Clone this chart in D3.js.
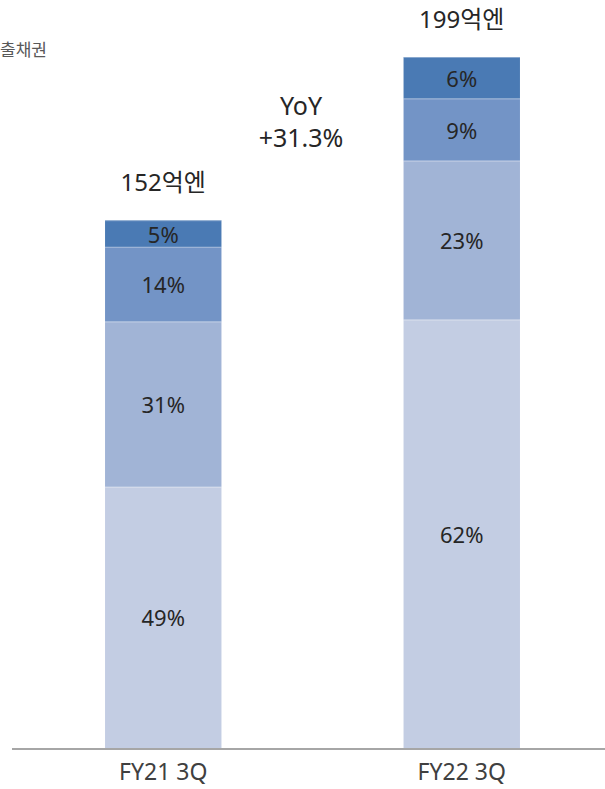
<!DOCTYPE html>
<html>
<head>
<meta charset="utf-8">
<script src="https://cdn.jsdelivr.net/npm/d3@7"></script>
<style>
  html, body { margin: 0; padding: 0; background: #fff; }
  svg { display: block; }
  text { font-family: "Noto Sans", "Noto Sans CJK KR", sans-serif; }
</style>
</head>
<body>
<svg id="chart" width="605" height="789"></svg>
<script>
// ---- data ----
const categories = ["FY21 3Q", "FY22 3Q"];
const totals = [152, 199];
const totalLabels = ["152억엔", "199억엔"];
const segmentKeys = ["s1", "s2", "s3", "s4"]; // bottom → top
const sharesFY21 = [49, 31, 14, 5];
const sharesFY22 = [62, 23, 9, 6];
const segmentColors = ["#c3cde3", "#a1b4d6", "#7394c6", "#4a7ab4"];
const yoyLines = ["YoY", "+31.3%"];
const cornerLabel = "출채권";

const shares = [sharesFY21, sharesFY22];

const svg = d3.select("#chart");

const x = d3.scaleBand().domain(categories).range([14, 611]).paddingInner(0.61).paddingOuter(0.305);
const y = d3.scaleLinear().domain([0, 199]).range([748, 57]);

// build stacked rows: each segment value = total * share
const rows = categories.map((c, i) => {
  const sum = d3.sum(shares[i]);
  const r = { cat: c };
  segmentKeys.forEach((k, j) => { r[k] = totals[i] * shares[i][j] / sum; });
  return r;
});
const stack = d3.stack().keys(segmentKeys)(rows);

const layers = svg.append("g").selectAll("g").data(stack).join("g")
  .attr("fill", (d, j) => segmentColors[j]);

layers.selectAll("rect").data(d => d).join("rect")
  .attr("x", d => x(d.data.cat))
  .attr("width", x.bandwidth())
  .attr("y", d => y(d[1]))
  .attr("height", d => y(d[0]) - y(d[1]));

// thin separators between segments
layers.selectAll("line").data(d => d).join("line")
  .attr("x1", d => x(d.data.cat))
  .attr("x2", d => x(d.data.cat) + x.bandwidth())
  .attr("y1", d => y(d[1]) + 0.5)
  .attr("y2", d => y(d[1]) + 0.5)
  .attr("stroke", "#ffffff").attr("stroke-opacity", 0.35).attr("stroke-width", 1);

// percentage labels
stack.forEach((layer, j) => {
  svg.append("g").selectAll("text").data(layer).join("text")
    .attr("x", d => x(d.data.cat) + x.bandwidth() / 2)
    .attr("y", d => (y(d[0]) + y(d[1])) / 2)
    .attr("text-anchor", "middle")
    .attr("dominant-baseline", "central")
    .attr("font-size", 22)
    .attr("fill", "#262626")
    .text((d, i) => shares[i][j] + "%");
});

// axis
const axis = d3.axisBottom(x).tickSize(0).tickPadding(15);
const gAxis = svg.append("g").attr("transform", "translate(0,749)").call(axis);
gAxis.select(".domain").attr("stroke", "#a6a6a6").attr("stroke-width", 2)
  .attr("d", "M12,0H605");
gAxis.selectAll("text").attr("font-size", 23).attr("fill", "#404040")
  .attr("font-family", "\"Noto Sans\", \"Noto Sans CJK KR\", sans-serif");

// total labels
svg.append("g").selectAll("text").data(categories).join("text")
  .attr("x", c => x(c) + x.bandwidth() / 2)
  .attr("y", (c, i) => y(totals[i]) - 29)
  .attr("text-anchor", "middle")
  .attr("font-size", 24)
  .attr("fill", "#262626")
  .text((c, i) => totalLabels[i]);

// YoY label
svg.append("g").selectAll("text").data(yoyLines).join("text")
  .attr("x", 301)
  .attr("y", (d, i) => 115 + i * 32)
  .attr("text-anchor", "middle")
  .attr("font-size", 25)
  .attr("fill", "#262626")
  .text(d => d);

// corner label
svg.append("text")
  .attr("x", 0).attr("y", 56)
  .attr("font-size", 17)
  .attr("font-family", "\"Noto Sans CJK KR\", sans-serif")
  .attr("fill", "#595959")
  .text(cornerLabel);
</script>
</body>
</html>
